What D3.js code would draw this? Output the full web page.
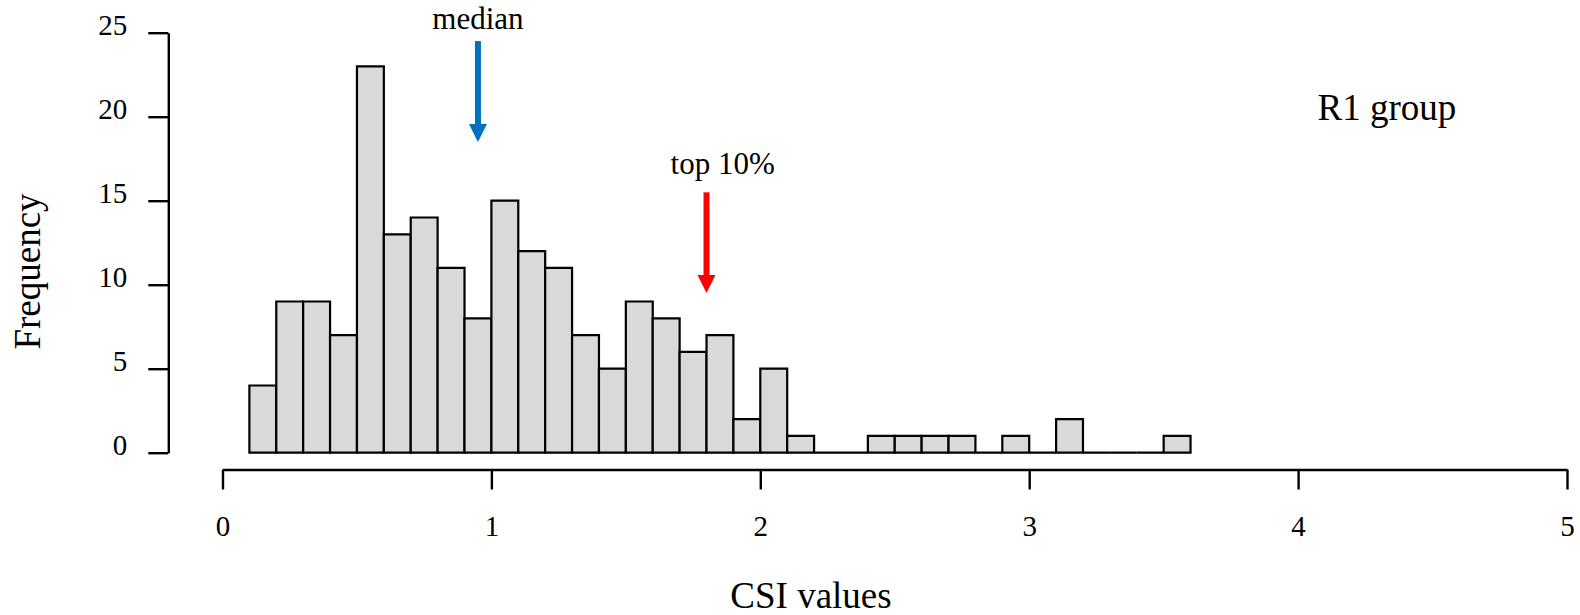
<!DOCTYPE html>
<html>
<head>
<meta charset="utf-8">
<script src="https://cdn.jsdelivr.net/npm/d3@7"></script>
<style>
  html, body { margin: 0; padding: 0; background: #fff; }
  svg { display: block; }
  text { font-family: "Liberation Serif", "Times New Roman", serif; fill: #000; }
</style>
</head>
<body>
<svg id="chart" width="1580" height="615"></svg>
<script>
// ---- data ----
const binStarts = [0.1,0.2,0.3,0.4,0.5,0.6,0.7,0.8,0.9,1.0,1.1,1.2,1.3,1.4,1.5,1.6,1.7,1.8,1.9,2.0,2.1,2.2,2.3,2.4,2.5,2.6,2.7,2.8,2.9,3.0,3.1,3.2,3.3,3.4,3.5];
const counts    = [4,9,9,7,23,13,14,11,8,15,12,11,7,5,9,8,6,7,2,5,1,0,0,1,1,1,1,0,1,0,2,0,0,0,1];
const binWidth = 0.1;
const xTicks = [0,1,2,3,4,5];
const yTicks = [0,5,10,15,20,25];
const arrows = [
  {label: "median",  x: 0.95, y0: 24.5, y1: 18.5, tx: 0.95, ty: 25.2, color: "#0070C0"},
  {label: "top 10%", x: 1.8,  y0: 15.5, y1: 9.5,  tx: 1.86, ty: 16.6, color: "#FF0000"}
];
const groupLabel = {text: "R1 group", x: 4.33, y: 20.5};

const SERIF = '"Liberation Serif", "Times New Roman", serif';

// ---- scales ----
const svg = d3.select("#chart");
const x = d3.scaleLinear().domain([0,5]).range([222.5, 1567]);
const y = d3.scaleLinear().domain([0,25]).range([452.7, 32.7]);

// ---- bars (paths so that empty bins still show as a line) ----
svg.append("g").selectAll("path").data(binStarts).join("path")
  .attr("d", (d,i) => {
    const x0 = x(d), x1 = x(d + binWidth), yb = y(0), yt = y(counts[i]);
    return `M${x0},${yb}V${yt}H${x1}V${yb}Z`;
  })
  .attr("fill", "#d9d9d9")
  .attr("stroke", "#000")
  .attr("stroke-width", 2.2)
  .attr("stroke-linejoin", "miter");

// ---- axes ----
const yAxis = svg.append("g").attr("transform", "translate(168.3,0)")
  .call(d3.axisLeft(y).tickValues(yTicks).tickSize(20).tickSizeOuter(0).tickPadding(21));
const xAxis = svg.append("g").attr("transform", "translate(0,469.5)")
  .call(d3.axisBottom(x).tickValues(xTicks).tickSize(20).tickSizeOuter(0).tickPadding(26).tickFormat(d3.format("d")));
[yAxis, xAxis].forEach(g => {
  g.attr("font-family", SERIF).attr("font-size", 29);
  g.select(".domain").attr("stroke", "#000").attr("stroke-width", 2.4);
  g.selectAll(".tick line").attr("stroke", "#000").attr("stroke-width", 2.4);
  g.selectAll(".tick text").style("font-family", SERIF).style("font-size", "29px").attr("fill", "#000");
});
yAxis.selectAll(".tick text").attr("dy", "0.06em");
xAxis.selectAll(".tick text").attr("dy", "0.71em");

// ---- axis titles ----
svg.append("text").attr("x", 811).attr("y", 608).attr("text-anchor", "middle")
  .style("font-size", "37px").text("CSI values");
svg.append("text").attr("transform", "translate(40,271.5) rotate(-90)").attr("text-anchor", "middle")
  .style("font-size", "37px").text("Frequency");

// ---- annotations ----
arrows.forEach(a => {
  const head = 18;
  svg.append("line")
    .attr("x1", x(a.x)).attr("x2", x(a.x))
    .attr("y1", y(a.y0)).attr("y2", y(a.y1) - head + 2)
    .attr("stroke", a.color).attr("stroke-width", 6);
  const tx = x(a.x), ty = y(a.y1);
  svg.append("path")
    .attr("d", `M${tx - 9},${ty - head} L${tx + 9},${ty - head} L${tx},${ty} Z`)
    .attr("fill", a.color);
  svg.append("text").attr("x", x(a.tx)).attr("y", y(a.ty)).attr("text-anchor", "middle")
    .style("font-size", "31px").text(a.label);
});
svg.append("text").attr("x", x(groupLabel.x)).attr("y", y(groupLabel.y) + 12).attr("text-anchor", "middle")
  .style("font-size", "37px").text(groupLabel.text);
</script>
</body>
</html>
